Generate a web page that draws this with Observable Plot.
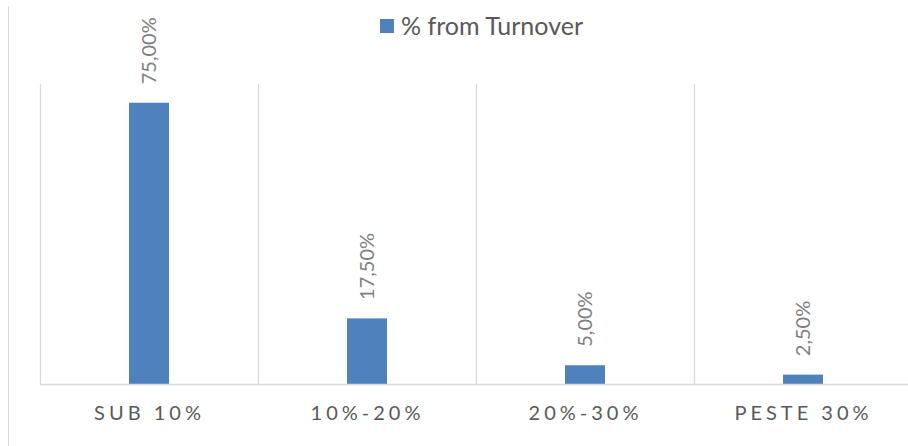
<!DOCTYPE html>
<html>
<head>
<meta charset="utf-8">
<script src="https://cdn.jsdelivr.net/npm/d3@7"></script>
<script src="https://cdn.jsdelivr.net/npm/@observablehq/plot@0.6"></script>
<style>
  html, body { margin: 0; padding: 0; background: #fff; }
  #wrap { position: relative; width: 908px; height: 446px; overflow: hidden; font-family: Lato, "Open Sans", sans-serif; }
  #border { position: absolute; left: 8px; top: 6px; width: 0; height: 440px; border-left: 1.5px solid #d9d9d9; }
  #legend { height: 50px; position: relative; }
  #legend .sw { position: absolute; left: 380px; top: 19px; width: 14px; height: 14px; background: #4f81bd; }
  #legend .lt { position: absolute; left: 401px; top: 9px; font-size: 25px; color: #595959; line-height: 32px; white-space: nowrap; }
  #chart svg { display: block; overflow: visible; }
  #chart [aria-label="x-axis tick label"] text { letter-spacing: 4px; }
</style>
</head>
<body>
<div id="wrap">
  <div id="border"></div>
  <div id="legend"><div class="sw"></div><div class="lt"></div></div>
  <div id="chart"></div>
</div>
<script>
const categories = ["SUB 10%", "10%-20%", "20%-30%", "PESTE 30%"];
const values = [0.75, 0.175, 0.05, 0.025];
const labels = ["75,00%", "17,50%", "5,00%", "2,50%"];
const seriesName = "% from Turnover";
const yMax = 0.8;

document.querySelector("#legend .lt").textContent = seriesName;

const data = categories.map((c, i) => ({category: c, value: values[i], label: labels[i]}));

const W = 908, H = 396;
const left = 40, rightEnd = 912;
const step = (rightEnd - left) / categories.length;

const chart = Plot.plot({
  width: W,
  height: H,
  marginLeft: left,
  marginRight: 0,
  marginTop: 34,
  marginBottom: 62,
  style: {fontFamily: "Lato, 'Open Sans', sans-serif", background: "transparent"},
  x: {type: "band", domain: categories, range: [left, rightEnd], paddingInner: 0.817, paddingOuter: 0.4085, label: null},
  y: {domain: [0, yMax], axis: null},
  marks: [
    Plot.ruleX(categories, {x: d => d, dx: -step / 2, y1: 0, y2: yMax, stroke: "#d9d9d9", strokeWidth: 1.3}),
    Plot.barY(data, {x: "category", y: "value", fill: "#4f81bd"}),
    Plot.ruleY([0], {stroke: "#d9d9d9", strokeWidth: 1.5}),
    Plot.text(data, {x: "category", y: "value", text: "label", rotate: -90, textAnchor: "start", lineAnchor: "middle", dy: -19, fontSize: 20, fill: "#7f7f7f"}),
    Plot.axisX({tickSize: 0, tickPadding: 21, fontSize: 20, color: "#595959", label: null, dx: 0})
  ]
});
document.getElementById("chart").appendChild(chart);
</script>
</body>
</html>
